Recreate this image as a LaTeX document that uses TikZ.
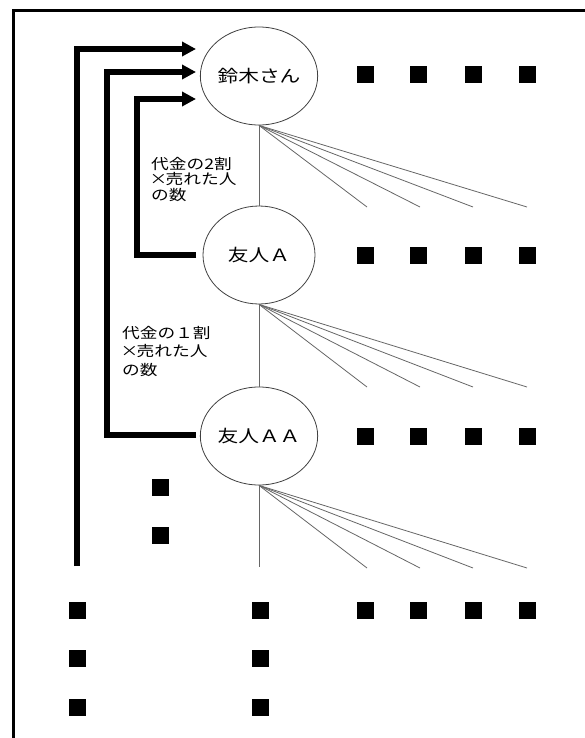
\documentclass[tikz,border=0pt]{standalone}
\usepackage{fontspec}
\usetikzlibrary{shapes.geometric,arrows.meta}
\newfontfamily\jp[FakeStretch=1.22]{Noto Sans CJK JP}
\newcommand{\fwtimes}{\makebox[1em]{×}}
\begin{document}
\begin{tikzpicture}[x=1pt,y=-1pt,
  person/.style={ellipse,draw=black!75,line width=0.8pt,minimum width=112pt,minimum height=98pt,inner sep=0pt,font=\jp\fontsize{17}{20}\selectfont},
  sq/.style={fill=black,minimum size=17pt,inner sep=0pt},
  thin line/.style={draw=black!60,line width=0.8pt},
  arr/.style={line width=5.5pt,-{Triangle[length=14pt,width=14pt]}},
  lbl/.style={align=left,inner sep=0pt,anchor=north west}]
\useasboundingbox (0,0) rectangle (585,738);
\draw[line width=3pt] (585,11) -- (13,11) -- (13,738);
% persons
\node[person] (c1) at (259,76) {鈴木さん};
\node[person] (c2) at (259,255) {友人Ａ};
\node[person] (c3) at (259,436) {友人ＡＡ};
% vertical connectors
\draw[thin line] (c1.south) -- (c2.north);
\draw[thin line] (c2.south) -- (c3.north);
\coordinate (e3) at (259,567);
\draw[thin line] (c3.south) -- (e3);
% fans
\foreach \n/\y in {1/207,2/387,3/568}{
  \foreach \k/\x in {a/367,b/420,c/473,d/527}{
    \coordinate (f\n\k) at (\x,\y);
    \draw[thin line] (c\n.south) -- (f\n\k);
  }
}
% square rows
\foreach \r/\y in {1/75,2/255,3/436,4/610}{
  \foreach \k/\x in {a/365,b/418,c/473,d/527}{
    \node[sq] (s\r\k) at (\x,\y) {};
  }
}
\node[sq] (m1) at (160,487) {};
\node[sq] (m2) at (160,535) {};
\node[sq] (b1) at (77,610) {};
\node[sq] (b2) at (77,658) {};
\node[sq] (b3) at (77,707) {};
\node[sq] (b4) at (260,610) {};
\node[sq] (b5) at (260,658) {};
\node[sq] (b6) at (260,707) {};
% arrows
\coordinate (o0) at (77,566);
\coordinate (o1) at (77,49);
\coordinate (t1) at (196,49);
\draw[arr] (o0) -- (o1) -- (t1);
\coordinate (p0) at (196,435);
\coordinate (p1) at (107,435);
\coordinate (p2) at (107,72);
\coordinate (t2) at (196,72);
\draw[arr] (p0) -- (p1) -- (p2) -- (t2);
\coordinate (q0) at (196,255);
\coordinate (q1) at (137,255);
\coordinate (q2) at (137,99);
\coordinate (t3) at (196,99);
\draw[arr] (q0) -- (q1) -- (q2) -- (t3);
% labels
\node[lbl,font=\jp\fontsize{14.5}{15.5}\selectfont] (l1) at (151,157) {代金の2割\\\fwtimes 売れた人\\の数};
\node[lbl,font=\jp\fontsize{14.5}{18.5}\selectfont] (l2) at (122,326) {代金の１割\\\fwtimes 売れた人\\の数};
\end{tikzpicture}
\end{document}
